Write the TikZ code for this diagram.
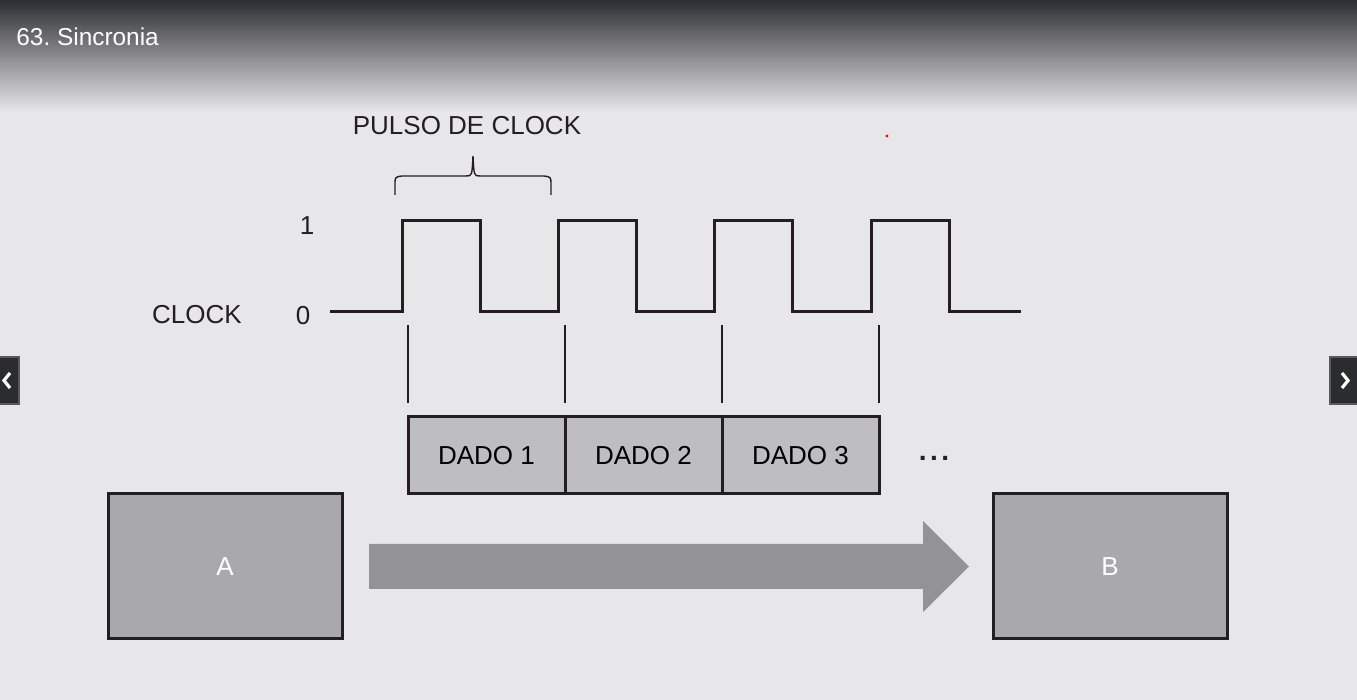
\documentclass[tikz,border=0pt]{standalone}
\usepackage{fontspec}
\setmainfont{Liberation Sans}
\usetikzlibrary{positioning}

\definecolor{pagebg}{HTML}{E7E7E9}
\definecolor{bardark}{HTML}{2D2E33}
\definecolor{barmid}{HTML}{8B8B8F}
\definecolor{linedark}{HTML}{231F20}
\definecolor{datafill}{HTML}{BEBEC2}
\definecolor{boxfill}{HTML}{A9A9AD}
\definecolor{arrowfill}{HTML}{939397}
\definecolor{navfill}{HTML}{2B2C30}

\tikzset{
  lbl/.style={font=\fontsize{13}{15}\selectfont, text=linedark, inner sep=0pt},
  databox/.style={draw=linedark, line width=1.5pt, fill=datafill, minimum width=78.5pt,
    minimum height=38.5pt, outer sep=0pt, inner sep=0pt, font=\fontsize{13}{15}\selectfont},
  bigbox/.style={draw=linedark, line width=1.5pt, fill=boxfill, minimum width=117pt,
    minimum height=72.5pt, outer sep=0pt, text=white, font=\fontsize{13}{15}\selectfont},
  clk/.style={line width=1.5pt, draw=linedark},
  tick/.style={line width=0.6pt, draw=linedark},
}

\begin{document}
\frenchspacing
\begin{tikzpicture}[x=0.5pt,y=-0.5pt]
% page and title bar
\fill[pagebg] (0,0) rectangle (1357,700);
\useasboundingbox (0,0) rectangle (1357,700);
\shade[top color=bardark, bottom color=barmid] (0,0) rectangle (1357,56);
\shade[top color=barmid, bottom color=pagebg] (0,55.5) rectangle (1357,112);
\node[anchor=base west, text=white, font=\fontsize{12.2}{14}\selectfont, inner sep=0pt] (title) at (16,46) {63. Sincronia};

% nav buttons
\filldraw[fill=navfill, draw=gray!70!black, line width=0.6pt] (-2,357) rectangle (19,404);
\draw[white, line width=1.6pt] (10,373) -- (4,380.5) -- (10,388);
\filldraw[fill=navfill, draw=gray!70!black, line width=0.6pt] (1330,357) rectangle (1359,404);
\draw[white, line width=1.6pt] (1342,373) -- (1348,380.5) -- (1342,388);

\fill[red] (887,136) circle (1.6);

% clock
\node[lbl] (pulso) at (467,126) {PULSO DE CLOCK};
\draw[line width=0.7pt, draw=linedark] (395,195) -- (395,185) .. controls (395,177) .. (402,176)
  -- (466,176) .. controls (472,176) .. (473,156) .. controls (474,176) .. (480,176)
  -- (544,176) .. controls (551,177) .. (551,185) -- (551,195);
\node[lbl] (one) at (307,226) {1};
\node[lbl] (zero) at (303,316) {0};
\node[lbl] (clock) at (197,315) {CLOCK};
\draw[clk] (330,312) -- (402,312) -- (402,221) -- (480,221) -- (480,312) -- (558,312)
  -- (558,221) -- (636,221) -- (636,312) -- (714,312) -- (714,221) -- (792,221)
  -- (792,312) -- (871,312) -- (871,221) -- (949,221) -- (949,312) -- (1021,312);

% data
\node[databox] (dado1) at (486.5,455.5) {\raisebox{-1.5pt}{DADO 1}};
\node[databox, right=0pt of dado1] (dado2) {\raisebox{-1.5pt}{DADO 2}};
\node[databox, right=0pt of dado2] (dado3) {\raisebox{-1.5pt}{DADO 3}};
\node[lbl, font=\fontsize{14}{16}\selectfont\bfseries] (more) at (934,458) {.\hspace{1.7pt}.\hspace{1.7pt}.};
\draw[tick] ([yshift=7pt]dado1.north west) -- ++(0,-78);
\draw[tick] ([yshift=7pt]dado1.north east) -- ++(0,-78);
\draw[tick] ([yshift=7pt]dado2.north east) -- ++(0,-78);
\draw[tick] ([yshift=7pt]dado3.north east) -- ++(0,-78);

% A -> B
\node[bigbox] (a) at (225,566.5) {A};
\node[bigbox] (b) at (1110,566.5) {B};
\fill[arrowfill] (369,544) -- (923,544) -- (923,521) -- (969,566.5) -- (923,612)
  -- (923,589) -- (369,589) -- cycle;
\end{tikzpicture}
\end{document}
